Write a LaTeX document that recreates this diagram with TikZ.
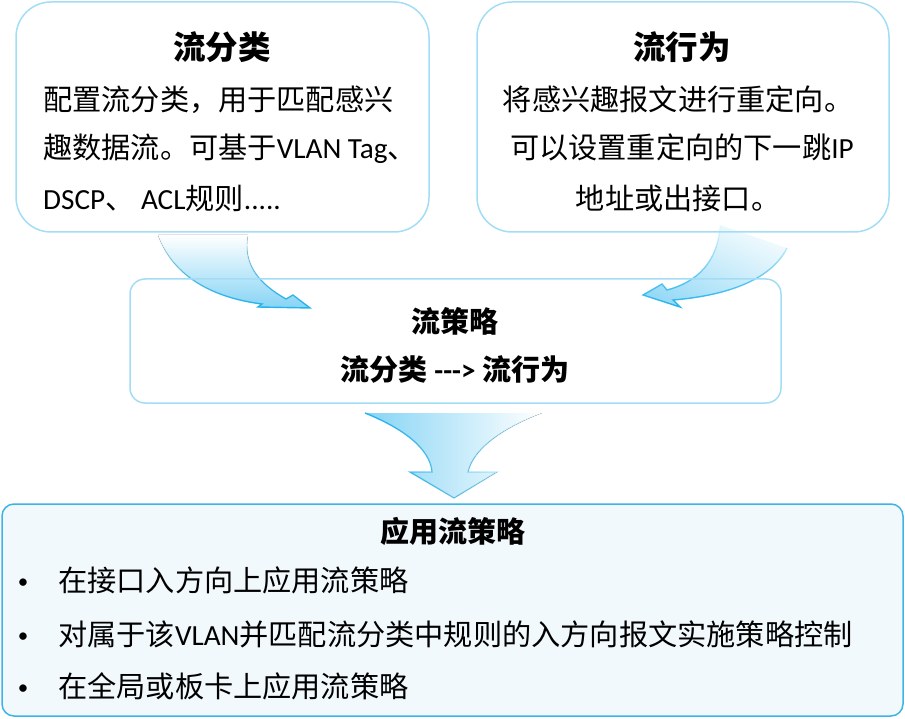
\documentclass[tikz,border=0pt]{standalone}
\usepackage{fontspec}
\setmainfont{Noto Sans CJK SC}
\newfontfamily\lat{Carlito}
\usetikzlibrary{fadings,shadings}
\definecolor{boxln}{HTML}{A3DDF5}
\definecolor{boxlnB}{HTML}{3CB4E6}
\definecolor{boxfillB}{HTML}{F2F9FD}
\definecolor{arrfill}{HTML}{86D4F5}
\definecolor{arrln}{HTML}{22B3EE}
\tikzset{
  topbox/.style={draw=boxln, line width=1.5pt, rectangle, inner sep=0pt},
  botbox/.style={draw=boxlnB, fill=boxfillB, line width=1.5pt, rectangle, rounded corners=12pt, inner sep=0pt},
  ttl/.style={font=\bfseries\fontsize{32.5}{32.5}\selectfont, anchor=base, inner sep=0pt},
  midtxt/.style={font=\bfseries\fontsize{29}{29}\selectfont, anchor=base, inner sep=0pt},
  body/.style={font=\fontsize{29.2}{29.2}\selectfont, inner sep=0pt},
  bul/.style={font=\fontsize{21}{21}\selectfont\lat, inner sep=0pt},
  arrout/.style={draw=arrln, line width=1.4pt, line join=miter},
}
\begin{document}
\begin{tikzpicture}[x=1pt,y=-1pt]
\useasboundingbox (0,0) rectangle (905,719);

% ---- arrows (behind box outlines) ----
% left curved arrow
\fill[top color=white, bottom color=arrfill]
  (158,235) .. controls (175,282) and (222,299) .. (262,304)
  -- (258,307) -- (310,308) -- (293,295) -- (286,299)
  .. controls (256,282) and (243,262) .. (248,235) -- cycle;
\draw[arrout, path fading=north]
  (158,235) .. controls (175,282) and (222,299) .. (262,304)
  -- (258,307) -- (310,308) -- (293,295) -- (286,299)
  .. controls (256,282) and (243,262) .. (248,235);
% right curved arrow
\shade[upper right=white, lower left=arrfill, upper left=arrfill!35, lower right=arrfill!45]
  (720,225) .. controls (718,262) and (697,282) .. (667,290)
  -- (662,284) -- (643,295) -- (680,307) -- (673,300)
  .. controls (722,296) and (770,282) .. (787,248) -- cycle;
\draw[arrout, path fading=north]
  (720,225) .. controls (718,262) and (697,282) .. (667,290)
  -- (662,284) -- (643,295) -- (680,307) -- (673,300)
  .. controls (722,296) and (770,282) .. (787,248);
% down arrow
\fill[left color=arrfill, right color=white]
  (365,413) .. controls (402,428) and (430,448) .. (432,472)
  -- (410,472) -- (454,498) -- (497,472) -- (468,472)
  .. controls (474,446) and (508,426) .. (542,413) -- cycle;
\draw[arrout, path fading=east]
  (365,413) .. controls (402,428) and (430,448) .. (432,472)
  -- (410,472) -- (454,498) -- (497,472) -- (468,472)
  .. controls (474,446) and (508,426) .. (542,413);

% ---- boxes ----
\node[topbox, rounded corners=35pt, minimum width=413pt, minimum height=230pt] (cls) at (222.5,117) {};
\node[topbox, rounded corners=35pt, minimum width=412pt, minimum height=230pt] (beh) at (683,117) {};
\node[topbox, rounded corners=15pt, minimum width=651pt, minimum height=124pt] (pol) at (455.5,341) {};
\node[botbox, minimum width=901pt, minimum height=212pt] (app) at (452.5,610) {};

% ---- texts: flow classifier ----
\node[ttl] (clsT) at (222,60) {流分类};
\node[body, anchor=base west] (cls1) at (43,111) {配置流分类，用于匹配感兴};
\node[body, anchor=base west] (cls2) at (43,159) {趣数据流。可基于{\lat VLAN Tag}、};
\node[body, anchor=base west] (cls3) at (43,210) {{\lat DSCP}、{\lat\ ACL}规则{\lat .....}};

% ---- texts: flow behavior ----
\node[ttl] (behT) at (682,60) {流行为};
\node[body, anchor=base] (beh1) at (678,111) {将感兴趣报文进行重定向。};
\node[body, anchor=base] (beh2) at (682,159) {可以设置重定向的下一跳{\lat IP}};
\node[body, anchor=base] (beh3) at (678,210) {地址或出接口。};

% ---- texts: traffic policy ----
\node[midtxt] (polT) at (455,333) {流策略};
\node[midtxt] (pol2) at (455,381) {流分类 {\lat --->} 流行为};

% ---- texts: apply ----
\node[font=\bfseries\fontsize{29}{29}\selectfont, anchor=base, inner sep=0pt] (appT) at (453,542) {应用流策略};
\node[bul, anchor=base] (b1) at (23,588) {\textbullet};
\node[bul, anchor=base] (b2) at (23,642) {\textbullet};
\node[bul, anchor=base] (b3) at (23,694) {\textbullet};
\node[body, anchor=base west] (app1) at (58,591) {在接口入方向上应用流策略};
\node[body, anchor=base west] (app2) at (58,645) {对属于该{\lat VLAN}并匹配流分类中规则的入方向报文实施策略控制};
\node[body, anchor=base west] (app3) at (58,697) {在全局或板卡上应用流策略};
\end{tikzpicture}
\end{document}
